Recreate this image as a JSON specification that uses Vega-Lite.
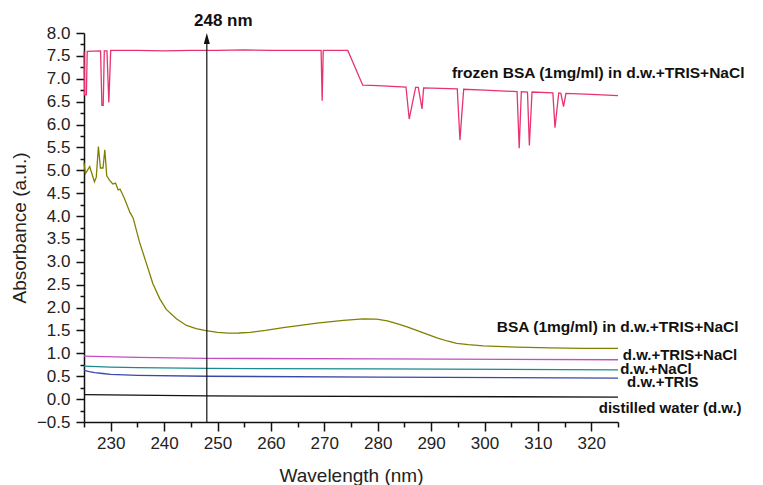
{
  "$schema": "https://vega.github.io/schema/vega-lite/v6.json",
  "autosize": "none",
  "width": 534,
  "height": 389,
  "padding": {"left": 84, "top": 33, "right": 145, "bottom": 63},
  "background": "white",
  "config": {"view": {"stroke": null}, "font": "Liberation Sans"},
  "datasets": {
    "spectra": [
      {"series": "frozen", "wl": 225.0, "a": 7.60}, {"series": "frozen", "wl": 225.1, "a": 6.65}, {"series": "frozen", "wl": 225.45, "a": 6.65}, {"series": "frozen", "wl": 225.6, "a": 7.60},
      {"series": "frozen", "wl": 228.1, "a": 7.61}, {"series": "frozen", "wl": 228.35, "a": 6.42}, {"series": "frozen", "wl": 228.6, "a": 6.42}, {"series": "frozen", "wl": 228.8, "a": 7.61},
      {"series": "frozen", "wl": 229.3, "a": 7.61}, {"series": "frozen", "wl": 229.65, "a": 6.48}, {"series": "frozen", "wl": 230.0, "a": 7.62},
      {"series": "frozen", "wl": 235, "a": 7.62}, {"series": "frozen", "wl": 240, "a": 7.61}, {"series": "frozen", "wl": 245, "a": 7.62}, {"series": "frozen", "wl": 250, "a": 7.62},
      {"series": "frozen", "wl": 255, "a": 7.63}, {"series": "frozen", "wl": 260, "a": 7.62}, {"series": "frozen", "wl": 265, "a": 7.62}, {"series": "frozen", "wl": 269.4, "a": 7.62},
      {"series": "frozen", "wl": 269.6, "a": 6.52}, {"series": "frozen", "wl": 269.8, "a": 7.62}, {"series": "frozen", "wl": 274.4, "a": 7.62}, {"series": "frozen", "wl": 277.2, "a": 6.86},
      {"series": "frozen", "wl": 280, "a": 6.85}, {"series": "frozen", "wl": 285.3, "a": 6.82}, {"series": "frozen", "wl": 285.9, "a": 6.12}, {"series": "frozen", "wl": 287.1, "a": 6.81},
      {"series": "frozen", "wl": 287.6, "a": 6.81}, {"series": "frozen", "wl": 288.3, "a": 6.34}, {"series": "frozen", "wl": 288.6, "a": 6.80}, {"series": "frozen", "wl": 294.9, "a": 6.78},
      {"series": "frozen", "wl": 295.4, "a": 5.66}, {"series": "frozen", "wl": 296.1, "a": 6.77}, {"series": "frozen", "wl": 300, "a": 6.75}, {"series": "frozen", "wl": 306.1, "a": 6.72},
      {"series": "frozen", "wl": 306.5, "a": 5.48}, {"series": "frozen", "wl": 306.9, "a": 6.72}, {"series": "frozen", "wl": 308.05, "a": 6.71}, {"series": "frozen", "wl": 308.4, "a": 5.54},
      {"series": "frozen", "wl": 308.9, "a": 6.71}, {"series": "frozen", "wl": 312.8, "a": 6.69}, {"series": "frozen", "wl": 313.2, "a": 5.93}, {"series": "frozen", "wl": 313.9, "a": 6.69},
      {"series": "frozen", "wl": 314.3, "a": 6.68}, {"series": "frozen", "wl": 314.8, "a": 6.39}, {"series": "frozen", "wl": 315.25, "a": 6.68}, {"series": "frozen", "wl": 320, "a": 6.66},
      {"series": "frozen", "wl": 325, "a": 6.63},
      {"series": "bsa", "wl": 225.0, "a": 5.17}, {"series": "bsa", "wl": 225.26, "a": 4.93}, {"series": "bsa", "wl": 226.07, "a": 5.08}, {"series": "bsa", "wl": 226.95, "a": 4.75},
      {"series": "bsa", "wl": 227.3, "a": 4.85}, {"series": "bsa", "wl": 227.7, "a": 5.52}, {"series": "bsa", "wl": 228.07, "a": 5.05}, {"series": "bsa", "wl": 228.56, "a": 5.05},
      {"series": "bsa", "wl": 228.9, "a": 5.45}, {"series": "bsa", "wl": 229.26, "a": 4.88}, {"series": "bsa", "wl": 229.8, "a": 4.78}, {"series": "bsa", "wl": 230.4, "a": 4.70},
      {"series": "bsa", "wl": 230.9, "a": 4.72}, {"series": "bsa", "wl": 231.4, "a": 4.57}, {"series": "bsa", "wl": 231.75, "a": 4.59}, {"series": "bsa", "wl": 232.6, "a": 4.38},
      {"series": "bsa", "wl": 233.6, "a": 4.08}, {"series": "bsa", "wl": 234.2, "a": 3.96}, {"series": "bsa", "wl": 235.4, "a": 3.43}, {"series": "bsa", "wl": 236.7, "a": 2.96},
      {"series": "bsa", "wl": 237.9, "a": 2.52}, {"series": "bsa", "wl": 239.2, "a": 2.19}, {"series": "bsa", "wl": 240.4, "a": 1.96}, {"series": "bsa", "wl": 242.3, "a": 1.755},
      {"series": "bsa", "wl": 244.2, "a": 1.61}, {"series": "bsa", "wl": 246.0, "a": 1.54}, {"series": "bsa", "wl": 247.6, "a": 1.50}, {"series": "bsa", "wl": 250, "a": 1.46},
      {"series": "bsa", "wl": 252, "a": 1.44}, {"series": "bsa", "wl": 254, "a": 1.445}, {"series": "bsa", "wl": 256.1, "a": 1.46}, {"series": "bsa", "wl": 259, "a": 1.50},
      {"series": "bsa", "wl": 262.3, "a": 1.56}, {"series": "bsa", "wl": 265.5, "a": 1.61}, {"series": "bsa", "wl": 268.6, "a": 1.66}, {"series": "bsa", "wl": 273.6, "a": 1.72},
      {"series": "bsa", "wl": 277.3, "a": 1.755}, {"series": "bsa", "wl": 279.8, "a": 1.75}, {"series": "bsa", "wl": 281.8, "a": 1.71}, {"series": "bsa", "wl": 283.6, "a": 1.65},
      {"series": "bsa", "wl": 285.5, "a": 1.58}, {"series": "bsa", "wl": 287.3, "a": 1.50}, {"series": "bsa", "wl": 289.2, "a": 1.42}, {"series": "bsa", "wl": 291.1, "a": 1.34},
      {"series": "bsa", "wl": 293, "a": 1.27}, {"series": "bsa", "wl": 294.8, "a": 1.22}, {"series": "bsa", "wl": 297, "a": 1.19}, {"series": "bsa", "wl": 299.8, "a": 1.165},
      {"series": "bsa", "wl": 306.1, "a": 1.135}, {"series": "bsa", "wl": 312.3, "a": 1.12}, {"series": "bsa", "wl": 318.6, "a": 1.11}, {"series": "bsa", "wl": 325, "a": 1.11},
      {"series": "trisnacl", "wl": 225, "a": 0.94}, {"series": "trisnacl", "wl": 235, "a": 0.91}, {"series": "trisnacl", "wl": 248, "a": 0.89}, {"series": "trisnacl", "wl": 280, "a": 0.88}, {"series": "trisnacl", "wl": 325, "a": 0.86},
      {"series": "nacl", "wl": 225, "a": 0.72}, {"series": "nacl", "wl": 230, "a": 0.70}, {"series": "nacl", "wl": 235, "a": 0.69}, {"series": "nacl", "wl": 248, "a": 0.67}, {"series": "nacl", "wl": 280, "a": 0.66}, {"series": "nacl", "wl": 325, "a": 0.64},
      {"series": "tris", "wl": 225, "a": 0.63}, {"series": "tris", "wl": 226, "a": 0.60}, {"series": "tris", "wl": 227, "a": 0.58}, {"series": "tris", "wl": 228.5, "a": 0.56}, {"series": "tris", "wl": 230, "a": 0.54}, {"series": "tris", "wl": 235, "a": 0.52}, {"series": "tris", "wl": 248, "a": 0.50}, {"series": "tris", "wl": 280, "a": 0.48}, {"series": "tris", "wl": 325, "a": 0.46},
      {"series": "water", "wl": 225, "a": 0.10}, {"series": "water", "wl": 248, "a": 0.07}, {"series": "water", "wl": 325, "a": 0.045}
    ],
    "labels": [
      {"label": "frozen BSA (1mg/ml) in d.w.+TRIS+NaCl", "wl": 293.9, "a": 7.12},
      {"label": "BSA (1mg/ml) in d.w.+TRIS+NaCl", "wl": 302.3, "a": 1.57},
      {"label": "d.w.+TRIS+NaCl", "wl": 325.9, "a": 0.96},
      {"label": "d.w.+NaCl", "wl": 325.4, "a": 0.66},
      {"label": "d.w.+TRIS", "wl": 326.7, "a": 0.38},
      {"label": "distilled water (d.w.)", "wl": 321.4, "a": -0.19},
      {"label": "248 nm", "wl": 245.6, "a": 8.27}
    ],
    "arrow": [{"wl": 248, "a0": -0.5, "a1": 7.9}]
  },
  "layer": [
    {
      "data": {"name": "spectra"},
      "mark": {"type": "line", "strokeWidth": 1.3},
      "encoding": {
        "x": {"field": "wl", "type": "quantitative", "scale": {"domain": [225, 325], "nice": false, "zero": false},
          "axis": {"values": [230, 240, 250, 260, 270, 280, 290, 300, 310, 320], "grid": false, "tickSize": 9, "tickColor": "#111", "tickWidth": 1.5, "domainColor": "#111", "domainWidth": 1.5, "labelFontSize": 17, "labelColor": "#222", "labelPadding": 4, "title": "Wavelength (nm)", "titleFontSize": 19, "titleFontWeight": "normal", "titleColor": "#222", "titleBaseline": "middle", "titleY": 53, "titleX": 267}},
        "y": {"field": "a", "type": "quantitative", "scale": {"domain": [-0.5, 8.0], "nice": false, "zero": false},
          "axis": {"values": [-0.5, 0, 0.5, 1, 1.5, 2, 2.5, 3, 3.5, 4, 4.5, 5, 5.5, 6, 6.5, 7, 7.5, 8], "format": ".1f", "grid": false, "tickSize": 8, "tickColor": "#111", "tickWidth": 1.5, "domainColor": "#111", "domainWidth": 1.5, "labelFontSize": 17, "labelColor": "#222", "labelPadding": 6, "title": "Absorbance (a.u.)", "titleFontSize": 19, "titleFontWeight": "normal", "titleColor": "#222", "titleBaseline": "middle", "titleX": -65, "titleY": 194.5, "titleAngle": -90}},
        "color": {"field": "series", "type": "nominal", "legend": null,
          "scale": {"domain": ["frozen", "bsa", "trisnacl", "nacl", "tris", "water"], "range": ["#e8336f", "#808000", "#c44dc4", "#1a8c8c", "#3a48aa", "#111111"]}}
      }
    },
    {
      "data": {"name": "labels"},
      "mark": {"type": "text", "align": "left", "baseline": "middle", "fontWeight": "bold", "fontSize": 15, "color": "#111"},
      "encoding": {
        "x": {"field": "wl", "type": "quantitative", "scale": {"domain": [225, 325], "nice": false, "zero": false},
          "axis": {"orient": "bottom", "values": [225, 235, 245, 255, 265, 275, 285, 295, 305, 315, 325], "labels": false, "domain": false, "grid": false, "tickSize": 5, "tickWidth": 1.5, "tickColor": "#111", "title": null}},
        "y": {"field": "a", "type": "quantitative", "scale": {"domain": [-0.5, 8.0], "nice": false, "zero": false},
          "axis": {"orient": "left", "values": [-0.25, 0.25, 0.75, 1.25, 1.75, 2.25, 2.75, 3.25, 3.75, 4.25, 4.75, 5.25, 5.75, 6.25, 6.75, 7.25, 7.75], "labels": false, "domain": false, "grid": false, "tickSize": 4, "tickWidth": 1.5, "tickColor": "#111", "title": null}},
        "text": {"field": "label"},
        "size": {"condition": {"test": "datum.label === '248 nm'", "value": 17}, "value": {"expr": "length(datum.label) > 25 ? 15.5 : 15"}}
      }
    },
    {
      "data": {"name": "arrow"},
      "mark": {"type": "rule", "color": "#111", "strokeWidth": 1.2},
      "encoding": {
        "x": {"field": "wl", "type": "quantitative", "axis": null},
        "y": {"field": "a0", "type": "quantitative", "axis": null},
        "y2": {"field": "a1"}
      }
    },
    {
      "data": {"name": "arrow"},
      "mark": {"type": "point", "shape": "M0,-1L-0.55,1L0.55,1Z", "filled": true, "color": "#111", "opacity": 1, "size": 121},
      "encoding": {
        "x": {"field": "wl", "type": "quantitative", "axis": null},
        "y": {"datum": 7.88, "type": "quantitative", "axis": null}
      }
    }
  ],
  "resolve": {"axis": {"x": "independent", "y": "independent"}}
}
